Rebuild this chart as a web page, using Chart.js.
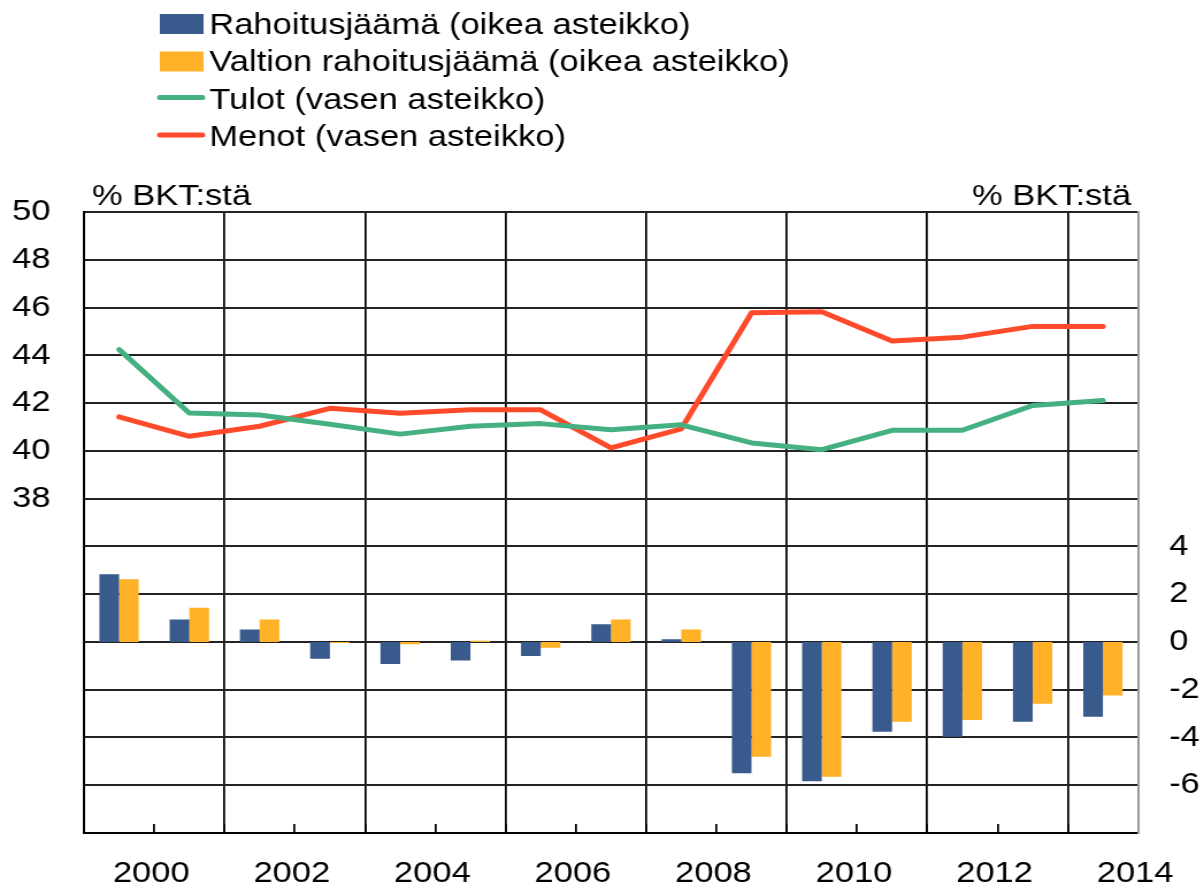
<!DOCTYPE html>
<html>
<head>
<meta charset="utf-8">
<script src="https://cdn.jsdelivr.net/npm/chart.js@4.4.0/dist/chart.umd.min.js"></script>
<style>
  body { margin: 0; background: #fff; }
</style>
</head>
<body>
<!-- the reference is stretched sideways, so the canvas is drawn narrow and shown wide -->
<canvas id="chart" width="1047" height="892" style="display:block;width:1204px;height:892px"></canvas>
<script>
//Data

const years = [
    '2000', '2001', '2002', '2003', '2004', '2005', '2006', '2007',
    '2008', '2009', '2010', '2011', '2012', '2013', '2014'
]

const rahoitusjaama = [2.83, 0.94, 0.52, -0.70, -0.92, -0.78, -0.59, 0.74, 0.11, -5.50, -5.83, -3.76, -3.97, -3.34, -3.13]
const valtionRahoitusjaama = [2.62, 1.43, 0.94, -0.05, -0.10, 0.05, -0.24, 0.94, 0.52, -4.81, -5.64, -3.34, -3.27, -2.59, -2.24]
const tulot = [44.24, 41.58, 41.50, 41.11, 40.70, 41.03, 41.14, 40.88, 41.09, 40.33, 40.05, 40.86, 40.86, 41.90, 42.11]
const menot = [41.42, 40.61, 41.03, 41.78, 41.57, 41.72, 41.72, 40.12, 40.92, 45.78, 45.82, 44.60, 44.76, 45.21, 45.21]

const seriesLabels = [
    'Rahoitusjäämä (oikea asteikko)',
    'Valtion rahoitusjäämä (oikea asteikko)',
    'Tulot (vasen asteikko)',
    'Menot (vasen asteikko)'
]

const seriesColors = [
    '#385A8C',
    '#FFB128',
    '#45B081',
    '#FF4B2B'
]

const unitLabel = '% BKT:stä';

//Drawing

const FONT = "30px 'Liberation Sans', Arial, sans-serif";
Chart.defaults.font.family = "'Liberation Sans', Arial, sans-serif";
Chart.defaults.font.size = 30;
Chart.defaults.color = '#000';

const barDataset = (label, data, color) => ({
    type: 'bar', label, data, yAxisID: 'yR', order: 1,
    backgroundColor: color, borderWidth: 0,
    categoryPercentage: 0.56, barPercentage: 1
});

const lineDataset = (label, data, color) => ({
    type: 'line', label, data, yAxisID: 'yL', order: 0,
    borderColor: color, backgroundColor: color, borderWidth: 5,
    pointRadius: 0, tension: 0, borderCapStyle: 'round', borderJoinStyle: 'round'
});

// legend rows and the two "% BKT:stä" captions above the plot
const captionsPlugin = {
    id: 'captions',
    afterDraw(chart) {
        const { ctx, chartArea } = chart;
        ctx.save();
        ctx.font = FONT;
        ctx.textBaseline = 'alphabetic';
        chart.data.datasets.forEach((ds, i) => {
            const y = 33.5 + i * 37.5;
            if (ds.type === 'line') {
                ctx.strokeStyle = ds.borderColor;
                ctx.lineWidth = 5;
                ctx.lineCap = 'round';
                ctx.beginPath();
                ctx.moveTo(139, y - 11);
                ctx.lineTo(176, y - 11);
                ctx.stroke();
            } else {
                ctx.fillStyle = ds.backgroundColor;
                ctx.fillRect(139, y - 19.5, 38, 20);
            }
            ctx.fillStyle = '#000';
            ctx.textAlign = 'left';
            ctx.fillText(ds.label, 182, y);
        });
        ctx.fillText(unitLabel, chartArea.left + 7, chartArea.top - 7);
        ctx.textAlign = 'right';
        ctx.fillText(unitLabel, chartArea.right - 6, chartArea.top - 7);
        ctx.restore();
    }
};

const data = {
    labels: years,
    datasets: [
        barDataset(seriesLabels[0], rahoitusjaama, seriesColors[0]),
        barDataset(seriesLabels[1], valtionRahoitusjaama, seriesColors[1]),
        lineDataset(seriesLabels[2], tulot, seriesColors[2]),
        lineDataset(seriesLabels[3], menot, seriesColors[3])
    ]
};

new Chart(document.getElementById('chart'), {
    type: 'bar',
    data,
    plugins: [captionsPlugin],
    options: {
        responsive: false,
        devicePixelRatio: 1,
        animation: false,
        // axes reserve twice their tick padding, so the outer padding pulls it back
        layout: { padding: { top: 212, left: -18.4, right: -23.3, bottom: -32 } },
        plugins: { legend: { display: false }, tooltip: { enabled: false } },
        scales: {
            x: {
                type: 'category',
                offset: true,
                grid: {
                    offset: true,
                    lineWidth: 1.75,
                    color: c => (c.index !== undefined && c.index % 2 === 0) ? '#000' : 'rgba(0,0,0,0)',
                    tickColor: '#000',
                    tickWidth: 1.75,
                    tickLength: -9
                },
                border: { color: '#000', width: 2 },
                ticks: {
                    autoSkip: false,
                    maxRotation: 0,
                    padding: 32,
                    labelOffset: 28,
                    callback: (v, i) => i % 2 === 0 ? years[i] : ''
                }
            },
            yL: {
                type: 'linear',
                position: 'left',
                min: 24,
                max: 50,
                grid: { color: '#222', lineWidth: 2, drawTicks: false },
                border: { color: '#000', width: 2 },
                ticks: {
                    stepSize: 2,
                    padding: 29,
                    callback: v => v >= 38 ? v : ''
                }
            },
            yR: {
                type: 'linear',
                position: 'right',
                min: -8,
                max: 18,
                grid: { display: false, drawTicks: false },
                border: { color: '#9a9a9a', width: 2 },
                ticks: {
                    stepSize: 2,
                    padding: 27,
                    callback: v => (v >= -6 && v <= 4) ? v : ''
                }
            }
        }
    }
});
</script>
</body>
</html>
